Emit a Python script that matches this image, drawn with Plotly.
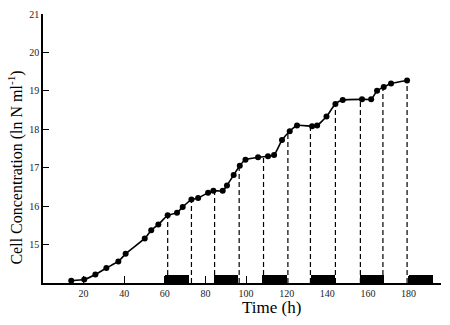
import numpy as np
import plotly.graph_objects as go

time_h = [13.9, 20.3, 25.8, 31.2, 37.1, 40.7, 50.1, 53.3, 56.8, 61.4, 66.0, 68.8, 73.1,
          76.4, 81.3, 83.9, 88.5, 90.6, 93.9, 96.9, 99.7, 105.9, 110.8, 113.8, 117.7,
          121.5, 125.1, 132.5, 135.0, 139.6, 144.0, 147.6, 157.1, 161.6, 164.5, 167.8,
          171.4, 179.3]
ln_conc = [14.06, 14.09, 14.22, 14.39, 14.56, 14.76, 15.16, 15.37, 15.52, 15.76, 15.83,
           15.98, 16.17, 16.21, 16.35, 16.40, 16.40, 16.54, 16.81, 17.05, 17.21, 17.27,
           17.30, 17.33, 17.72, 17.95, 18.10, 18.08, 18.10, 18.33, 18.66, 18.76, 18.78,
           18.78, 19.00, 19.10, 19.19, 19.27]

dash_times = [61.4, 73.1, 84.5, 96.6, 108.6, 120.6, 131.7, 144.0, 156.3, 167.4, 179.3]
dark_start = [60, 84, 108, 132, 156, 180]
dark_len = 12
bar_height = 0.22

x_ticks = [20, 40, 60, 80, 100, 120, 140, 160, 180]
y_ticks = [15, 16, 17, 18, 19, 20, 21]

y_base = 14.0
fig = go.Figure()

# dark periods
fig.add_trace(go.Bar(
    x=[s + dark_len / 2 for s in dark_start], y=[bar_height] * len(dark_start),
    base=y_base, width=dark_len, marker=dict(color="black", line=dict(width=0)),
    showlegend=False, hoverinfo="skip"))

# dashed vertical lines
dx, dy = [], []
for t in dash_times:
    top = float(np.interp(t, time_h, ln_conc))
    dx += [t, t, None]
    dy += [y_base, top, None]
fig.add_trace(go.Scatter(x=dx, y=dy, mode="lines",
                         line=dict(color="black", width=1.2, dash="5px,3px"),
                         showlegend=False, hoverinfo="skip"))

# growth curve
fig.add_trace(go.Scatter(x=time_h, y=ln_conc, mode="lines+markers",
                         line=dict(color="black", width=1.6, shape="spline", smoothing=0.5),
                         marker=dict(color="black", size=6),
                         showlegend=False))

font = "Liberation Serif, Times New Roman, serif"
fig.update_layout(
    width=450, height=325,
    margin=dict(l=43, r=9, t=8, b=42),
    paper_bgcolor="white", plot_bgcolor="white",
    font=dict(family=font, color="black"),
    bargap=0,
    xaxis=dict(range=[0, 196], tickvals=x_ticks, ticktext=[str(v) for v in x_ticks],
               ticks="inside", ticklen=7, tickwidth=1, tickcolor="black",
               showline=True, linecolor="black", linewidth=1.5,
               showgrid=False, zeroline=False,
               tickfont=dict(family=font, size=10, color="#222")),
    yaxis=dict(range=[14, 21], tickvals=y_ticks, ticktext=[str(v) for v in y_ticks],
               ticks="inside", ticklen=6, tickwidth=1, tickcolor="black",
               showline=True, linecolor="black", linewidth=1.5,
               showgrid=False, zeroline=False,
               tickfont=dict(family=font, size=10, color="#222")),
    annotations=[
        dict(text="Time (h)", xref="paper", yref="paper", x=(271 - 43) / 398,
             y=-(308 - 283) / 275, xanchor="center", yanchor="middle", showarrow=False,
             font=dict(family=font, size=17, color="black")),
        dict(text="Cell Concentration (ln N ml<sup>-1</sup>)", xref="paper", yref="paper",
             x=(16 - 43) / 398, y=(283 - 165) / 275, xanchor="center", yanchor="middle",
             textangle=-90, showarrow=False,
             font=dict(family=font, size=16, color="black")),
    ],
)

fig.write_html("out.html")
